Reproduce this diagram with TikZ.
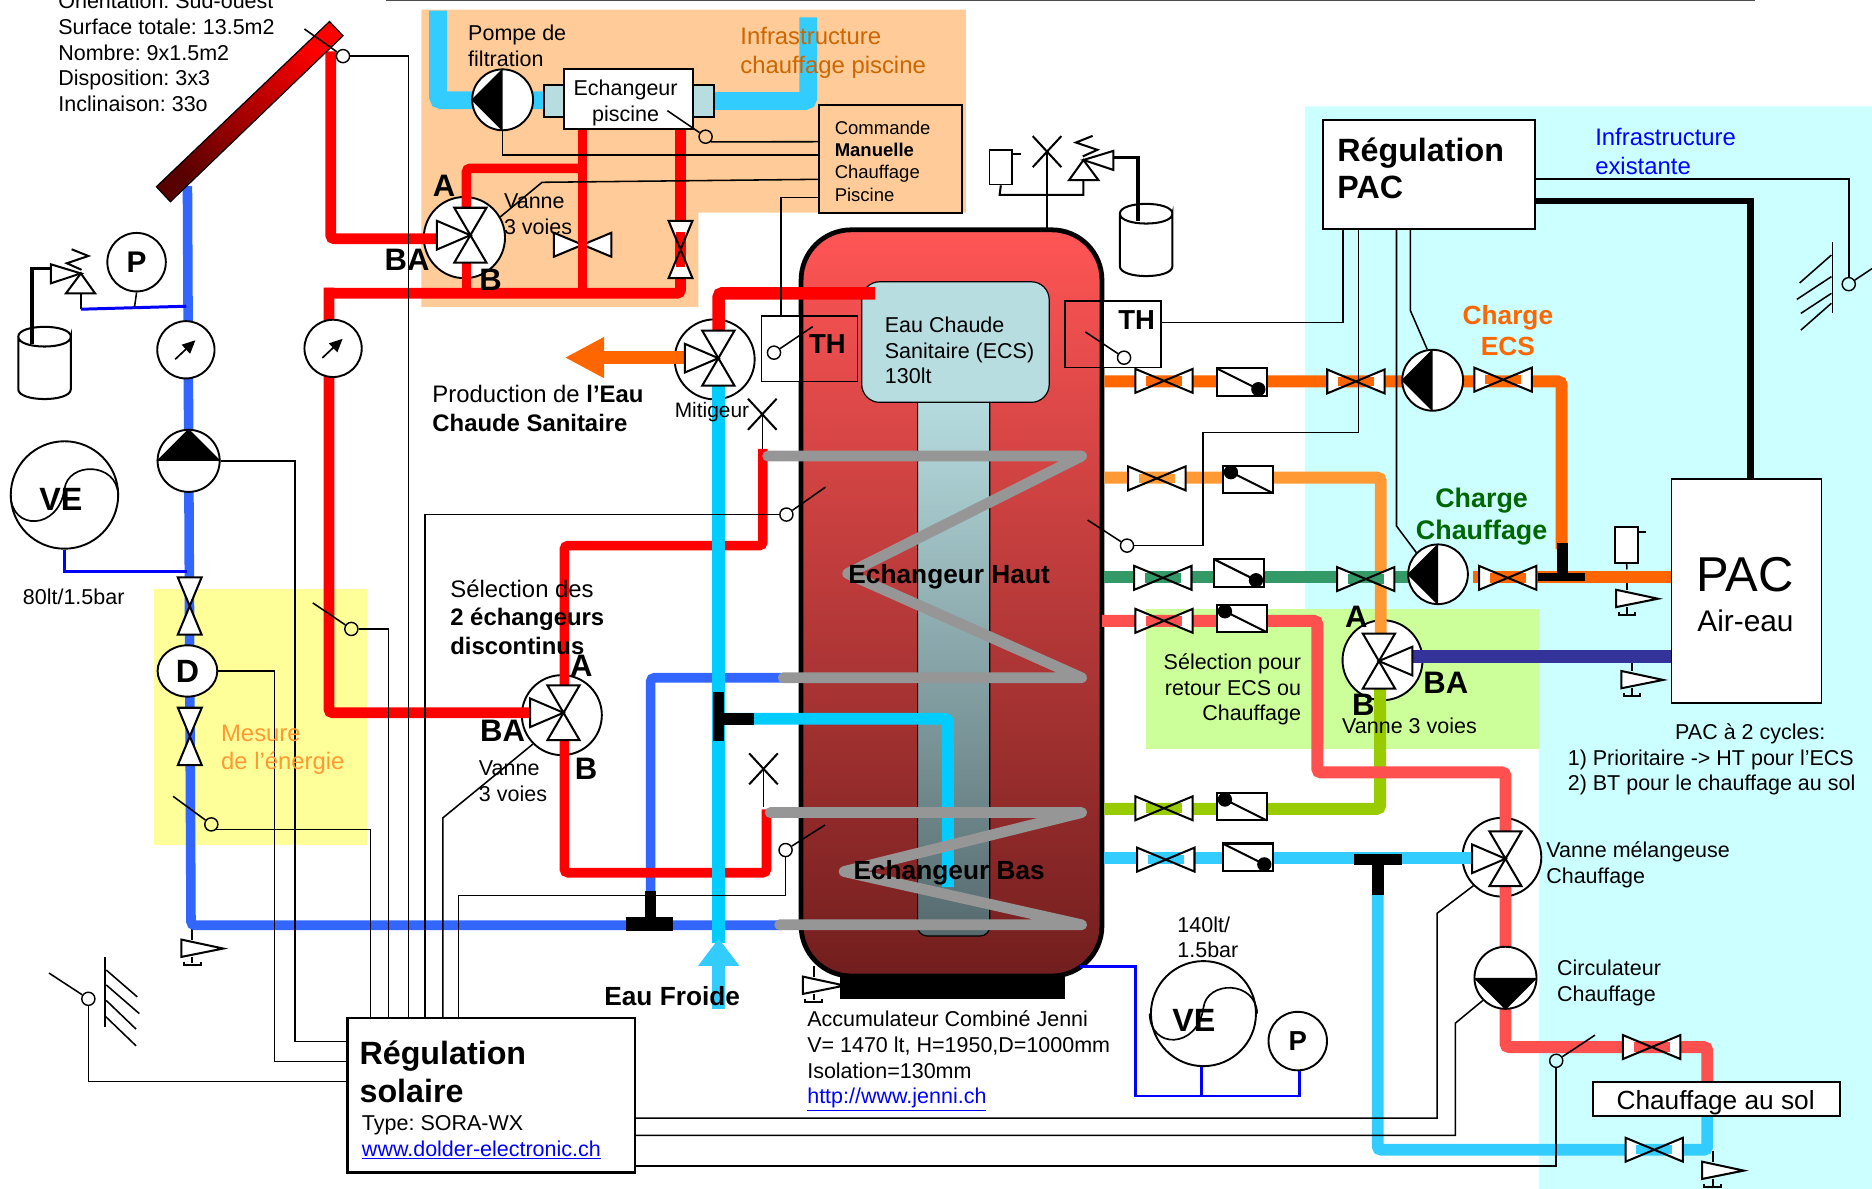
\documentclass[tikz,border=0pt]{standalone}
\usepackage{fontspec}
\setmainfont{Liberation Sans}
\usetikzlibrary{shapes.geometric, arrows.meta, positioning, calc}

\definecolor{cRouge}{HTML}{FF0000}
\definecolor{cBleu}{HTML}{3366FF}
\definecolor{cCiel}{HTML}{33CCFF}
\definecolor{cEau}{HTML}{00CCFF}
\definecolor{cOrange}{HTML}{FF6600}
\definecolor{cClair}{HTML}{FF9933}
\definecolor{cVert}{HTML}{339966}
\definecolor{cSaumon}{HTML}{FF5050}
\definecolor{cCitron}{HTML}{99CC00}
\definecolor{cMarine}{HTML}{333399}
\definecolor{cGris}{HTML}{969696}
\definecolor{cGlace}{HTML}{B7DDE0}
\definecolor{cGlaceM}{HTML}{90ABAF}
\definecolor{cGlaceB}{HTML}{566A6E}
\definecolor{cPiscine}{HTML}{FFCC99}
\definecolor{cTurq}{HTML}{CCFFFF}
\definecolor{cTendre}{HTML}{CCFF99}
\definecolor{cJaune}{HTML}{FFFF99}
\definecolor{cLien}{HTML}{0000FF}
\definecolor{cCuveH}{HTML}{FF5555}
\definecolor{cCuveB}{HTML}{721E1E}

\tikzset{
    tuyau/.style={line width=#1, rounded corners=3pt},
    tuyau/.default=10pt,
    fil/.style={line width=1.3pt, black},
    trait/.style={line width=1.7pt, black, line join=miter},
    boite/.style={draw, line width=1.5pt, fill=white, inner sep=0pt},
    rond/.style={circle, draw, line width=1.6pt, fill=white, inner sep=0pt, minimum size=#1},
    sonde/.style={circle, draw, line width=1.2pt, inner sep=0pt, minimum size=11pt},
    txt/.style={font=\fontsize{18}{21.5}\selectfont, inner sep=0pt, anchor=west, align=left},
    grand/.style={txt, font=\fontsize{20}{24}\selectfont},
    titre/.style={txt, font=\fontsize{27}{31.5}\selectfont\bfseries},
    lettre/.style={inner sep=0pt, font=\fontsize{26}{26}\selectfont\bfseries},
    pics/vanne/.style={code={
        \fill[white] (-24,-10) -- (24,10) -- (24,-10) -- (-24,10) -- cycle;
        \begin{scope}
            \clip (-24,-10) -- (24,10) -- (24,-10) -- (-24,10) -- cycle;
            \fill[#1] (-15,-4) rectangle (15,4);
        \end{scope}
        \draw[trait] (-24,-10) -- (24,10) -- (24,-10) -- (-24,10) -- cycle;
    }},
    pics/clapet/.style={code={
        \draw[trait, fill=white] (-21,-11.5) rectangle (21,11.5);
        \draw[trait] (-21,-11.5) -- (14,6);
        \fill (14,6) circle (6pt);
    }},
    pics/troisvoies/.style={code={
        \draw[trait, fill=white] (0,0) -- (-13.5,-23) -- (13.5,-23) -- cycle;
        \draw[trait, fill=white] (0,0) -- (-13.5,23) -- (13.5,23) -- cycle;
        \draw[trait, fill=white] (0,0) -- (-28,-12) -- (-28,12) -- cycle;
    }},
    pics/purge/.style={code={
        \draw[trait] (0,0) -- (0,9);
        \draw[trait, fill=white] (-9,9) -- (26,16.5) -- (-9,23.5) -- cycle;
        \draw[trait] (0,23.5) -- (0,29) (-7,27.5) -- (-7,30) -- (7,30) -- (7,27.5);
    }},
    pics/soupape/.style={code={
        \draw[trait, fill=white] (0,0) -- (-25,-7.6) -- (-25,8.3) -- cycle;
        \draw[trait, fill=white] (0,0) -- (-12.5,16.8) -- (12,16.8) -- cycle;
        \draw[trait] (-7.7,-20.2) -- (6.3,-14.6) -- (-11.7,-8.5) -- (0.6,-3);
    }},
    pics/event/.style={code={
        \draw[trait] (-12,-13) -- (12,13) (12,-13) -- (-12,13);
    }},
    pics/bidon/.style={code={
        \draw[trait, fill=white] (-22,0) -- (-22,44) .. controls (-22,55) and (22,55) .. (22,44) -- (22,0)
            .. controls (22,11) and (-22,11) .. (-22,0) .. controls (-22,-11) and (22,-11) .. (22,0);
    }},
    pics/spirale/.style={code={
        \draw[trait, line width=1.4pt] (-45,0) .. controls (-45,30) and (-5,30) .. (0,-5) .. controls (3,-28) and (44,-28) .. (45,0);
    }}
}

\begin{document}
\frenchspacing
\begin{tikzpicture}[x=1pt, y=-1pt]
    \useasboundingbox (0,0) rectangle (1568,995.9);

    % Zones
    \fill[cPiscine] (353,8) -- (809,8) -- (809,178) -- (585,178) -- (585,257) -- (353,257) -- cycle;
    \fill[cTurq] (1093,89) -- (1568,89) -- (1568,995.9) -- (1289,995.9) -- (1289,510) -- (1093,510) -- cycle;
    \fill[cTendre] (960,510) rectangle (1289,627);
    \fill[cJaune] (129,493.5) rectangle (307,708);
    \draw[line width=1pt, black!70] (323,0.4) -- (1470,0.4);

    % Accumulateur
    \fill (703.5,815) rectangle (892,836.6);
    \node[draw, line width=4pt, rounded corners=42pt, minimum width=252pt, minimum height=625pt, inner sep=0pt,
        top color=cCuveH, bottom color=cCuveB] (cuve) at (797,505) {};
    \shade[draw=black, line width=1pt, rounded corners=8pt, top color=cGlace, middle color=cGlaceM, bottom color=cGlaceB]
        (768.6,330) -- (768.6,784) -- (829,784) -- (829,330);
    \node[draw, line width=1pt, rounded corners=15pt, fill=cGlace, minimum width=157pt, minimum height=101pt, inner sep=0pt] (ecs) at (800.3,286.5) {};

    % Composants sous les tuyaux
    \node[rond=68pt] (v3P) at (389,199) {};
    \node[rond=67pt] (v3M) at (598.6,301) {};
    \node[rond=67pt] (v3S) at (470.6,599) {};
    \node[rond=67pt] (v3C) at (1158,553) {};
    \node[rond=66pt] (vMel) at (1258,718) {};
    \pic at (488,205) {vanne=white};
    \pic at (1362.7,485) {purge};
    \pic at (1367,553) {purge};
    \pic at (1434.6,964) {purge};
    \pic at (161,778) {purge};
    \pic at (681.5,809) {purge};

    % Tuyaux solaire
    \draw[cBleu, tuyau=8pt] (157,156) -- (160,775) -- (655,775);
    \draw[cBleu, tuyau=8pt] (545,750) -- (545,567.7) -- (656,567.7);
    \draw[cRouge, tuyau=9pt] (277,43) -- (277,200) -- (367,200);
    \draw[cRouge, tuyau=9pt] (275.5,241) -- (275.5,597) -- (445,597);
    \draw[cRouge, tuyau=9pt] (272,245.7) -- (570,245.7) -- (570,109);
    \draw[cRouge, tuyau=8pt] (488,109) -- (488,245.7);
    \draw[cRouge, tuyau=8pt] (488,141) -- (390.7,141) -- (390.7,175);
    \draw[cRouge, tuyau=8pt] (390.7,219) -- (390.7,245.7);
    \draw[cRouge, tuyau=8pt] (472.7,574) -- (472.7,457) -- (639,457) -- (639,376);
    \draw[cRouge, tuyau=8pt] (472.7,619) -- (472.7,731) -- (642,731) -- (642,678);
    \draw[cRouge, tuyau=10.5pt] (602,278) -- (602,245.7) -- (733,245.7);

    % Tuyaux piscine
    \draw[cCiel, tuyau=15pt] (367,9) -- (367,84) -- (456,84);
    \draw[cCiel, tuyau=15pt] (598,84.6) -- (677,84.6) -- (677,14.5);

    % Eau sanitaire
    \draw[cOrange, line width=11pt, -{Triangle[length=33pt, width=32pt]}] (575,299.5) -- (473,299.5);
    \draw[cEau, line width=11pt] (602,323) -- (602,790);
    \draw[cEau, line width=10pt, rounded corners=3pt] (602,602) -- (794,602) -- (794,743);
    \draw[cCiel, line width=11pt, -{Triangle[length=23pt, width=33pt]}] (602,845) -- (602,786);
    \draw[line width=9.5pt] (602,580) -- (602,621);
    \draw[line width=10pt] (602,602) -- (631.5,602);
    \draw[line width=9pt] (545,746) -- (545,774);
    \draw[line width=12pt] (524,774) -- (564,774);

    % Tuyaux PAC
    \draw[cOrange, tuyau] (925,319.5) -- (1308,319.5) -- (1308,460);
    \draw[cClair, tuyau] (925,400) -- (1156.5,400) -- (1156.5,531);
    \draw[cVert, tuyau] (925,483.5) -- (1185,483.5);
    \draw[cOrange, tuyau] (1234,483) -- (1400,483);
    \draw[cCitron, tuyau] (925,677.5) -- (1156,677.5) -- (1156,577);
    \draw[cSaumon, tuyau] (923,520) -- (1103.4,520) -- (1103.4,647) -- (1261,647) -- (1261,700);
    \draw[cSaumon, tuyau] (1261,740) -- (1261,877) -- (1430,877) -- (1430,908);
    \draw[cCiel, tuyau] (925,718.6) -- (1234,718.6);
    \draw[cCiel, tuyau] (1154,745) -- (1154,963) -- (1430,963) -- (1430,934);
    \draw[cMarine, tuyau=11pt] (1182,550) -- (1400,550);
    \draw[line width=9pt] (1309,455) -- (1309,484);
    \draw[line width=7pt] (1288,483.5) -- (1328,483.5);
    \draw[line width=9pt] (1134,719.8) -- (1174.5,719.8);
    \draw[line width=10pt] (1154,719.8) -- (1154,750);

    % Echangeurs
    \draw[cGris, line width=9pt, line join=round, line cap=round] (643,382) -- (906,382) -- (710,480.4) -- (906,567.7) -- (656,567.7);
    \draw[cGris, line width=9pt, line join=round, line cap=round] (645,680.6) -- (906,680.6) -- (707,730) -- (906,774.6) -- (653,774.6);

    % Capteur solaire
    \shade[draw=black, line width=1pt, top color=red, middle color=red!85!black, bottom color=red!35!black, shading angle=-43]
        (276,18) -- (287.3,30) -- (142.7,169) -- (131,156.4) -- cycle;

    % Vannes
    \foreach \x/\y/\c in {975/319/cOrange, 1135.7/319.5/cOrange, 1259/318/cOrange, 969/400.7/cClair, 974/484/cVert, 1144/485/cVert,
        1262.9/484/cOrange, 975/520/cSaumon, 975/677/cCitron, 976.5/720/cCiel, 1383.4/877/cSaumon, 1385.6/963/cCiel}
        {\pic at (\x,\y) {vanne=\c};}
    \foreach \x/\y/\c in {570/209/cRouge, 158.9/507.6/white, 159/616.8/white}
        {\pic[rotate=90] at (\x,\y) {vanne=\c};}
    \foreach \x/\y in {1040/320, 1038/480, 1045/718}
        {\pic at (\x,\y) {clapet};}
    \foreach \x/\y in {1045/401.5, 1040/518, 1040/675.7}
        {\pic[rotate=180] at (\x,\y) {clapet};}
    \pic at (394,197) {troisvoies};
    \pic at (601.7,300) {troisvoies};
    \pic at (472,597) {troisvoies};
    \pic at (1261,719.3) {troisvoies};
    \pic[rotate=180] at (1155,553.7) {troisvoies};

    % Pompes
    \node[rond=51pt] (pFil) at (421,83.6) {};
    \node[rond=51pt] (pECS) at (1200,318.5) {};
    \node[rond=50pt] (pCha) at (1204.5,481) {};
    \node[rond=52pt] (pSol) at (158,386) {};
    \node[rond=52pt] (pCir) at (1261,819) {};
    \foreach \p in {pFil, pECS, pCha}
        {\fill (\p.north) -- (\p.west) -- (\p.south) -- cycle;}
    \fill (pSol.west) -- (pSol.north) -- (pSol.east) -- cycle;
    \fill (pCir.west) -- (pCir.south) -- (pCir.east) -- cycle;

    % Debitmetres
    \node[rond=48pt] (fm1) at (155.7,293) {};
    \node[rond=48pt] (fm2) at (279,291.8) {};
    \foreach \f in {fm1, fm2}
        {\draw[line width=1.4pt, -{Triangle[length=11pt, width=10pt]}] ($(\f)+(-9,8)$) -- ($(\f)+(8,-8)$);}
    \node[ellipse, draw, line width=1.6pt, fill=white, minimum width=50pt, minimum height=43pt, inner sep=0pt,
        font=\fontsize{27}{27}\selectfont\bfseries] (dEner) at (157,562) {D};

    % Groupe de securite gauche
    \pic at (37.3,282) {bidon};
    \draw[line width=3pt] (42.7,224.8) -- (26.7,224.8) -- (26.7,288);
    \pic at (67.7,229) {soupape};
    \draw[trait] (67.7,245.7) -- (67.7,259);
    \node[rond=49pt, font=\fontsize{25}{25}\selectfont\bfseries] (jaugeG) at (114.4,219.6) {P};
    \draw[cLien, line width=2.5pt] (67.7,259) -- (156,256.5);
    \draw[fil] (jaugeG.south) -- (112.7,257);
    \node[rond=90pt] (veG) at (54,414.6) {};
    \pic at (54,414.6) {spirale};
    \node[lettre, font=\fontsize{27}{27}\selectfont\bfseries] (veGt) at (51,418) {VE};
    \draw[cLien, line width=2.5pt] (veG.south) -- (54,478.3) -- (157,478.3);

    % Groupe de securite ECS
    \pic at (960,179) {bidon};
    \draw[line width=3pt] (933,131.9) -- (953,131.9) -- (953,185);
    \pic[xscale=-1] at (907.5,134) {soupape};
    \node[boite, minimum width=19pt, minimum height=29pt] (clapH) at (838.3,140) {};
    \draw[trait] (clapH.north east) ++(0,4.4) -- ++(6.3,0);
    \draw[trait] (clapH.south) -- (837.3,163.3) -- (907.5,163.3) -- (907.5,151.4);
    \pic at (877,127) {event};
    \draw[fil] (877,127) -- (877,194);
    \pic at (638.5,347) {event};
    \draw[fil] (638.5,347) -- (638.5,376);
    \pic at (639.5,644) {event};
    \draw[fil] (639.5,644) -- (639.5,676);

    % Groupe PAC
    \node[boite, minimum width=19pt, minimum height=29.6pt] (clapP) at (1362.5,456.5) {};
    \draw[trait] (clapP.north east) ++(0,4.4) -- ++(6.3,0);
    \draw[fil] (clapP.south) -- (1362.7,477);
    \node[boite, minimum width=125.6pt, minimum height=188pt] (pac) at (1462.8,495) {};
    \node[inner sep=0pt, font=\fontsize{41}{41}\selectfont] (pacT) at (1462,481) {PAC};
    \node[inner sep=0pt, font=\fontsize{25}{25}\selectfont] (pacB) at (1462,520) {Air-eau};

    % Vases d'expansion ECS
    \draw[cLien, line width=2.5pt] (905,809.4) -- (951,809.4) -- (951,918) -- (1088.6,918) -- (1088.6,894.6);
    \draw[cLien, line width=2.5pt] (1006,892.6) -- (1006,918);
    \node[rond=88pt] (veD) at (1008,849) {};
    \pic at (1008,849) {spirale};
    \node[lettre, font=\fontsize{27}{27}\selectfont\bfseries] (veDt) at (1000,855) {VE};
    \node[rond=49pt, font=\fontsize{23}{23}\selectfont\bfseries] (jaugeD) at (1087,872) {P};

    % Boites
    \node[boite, minimum width=241pt, minimum height=129.4pt, line width=2.2pt] (regSol) at (411.5,917.3) {};
    \node[boite, minimum width=178pt, minimum height=91.5pt] (regPac) at (1197,146.2) {};
    \node[boite, fill=cPiscine, minimum width=119.7pt, minimum height=90.7pt] (cmd) at (745.8,133.3) {};
    \node[boite, fill=cGlace, minimum width=16.7pt, minimum height=27pt] (capG) at (464.3,84.5) {};
    \node[boite, fill=cGlace, minimum width=17.6pt, minimum height=27pt] (capD) at (589.5,84.5) {};
    \node[boite, minimum width=108pt, minimum height=50pt] (echP) at (526.7,83) {};
    \node[boite, minimum width=207pt, minimum height=28.6pt] (sol) at (1437.5,920.3) {};
    \node[draw, line width=1.3pt, minimum width=80.6pt, minimum height=55pt, inner sep=0pt] (thG) at (678,292.2) {};
    \node[draw, line width=1.3pt, minimum width=80.7pt, minimum height=56pt, inner sep=0pt] (thD) at (932.3,280) {};
    \fill[white] (638.5,265.5) rectangle (669,319);
    \draw[line width=1.3pt] (669,265) -- (638,265) -- (638,319.5) -- (669,319.5);
    \fill[white] (925,252.6) rectangle (972,307.4);
    \draw[line width=1.3pt] (925,252) -- (972.7,252) -- (972.7,308) -- (925,308);

    % Sondes
    \node[sonde] (sPan) at (287.3,47) {};
    \node[sonde] (sRed) at (294.3,526.8) {};
    \node[sonde] (sMes) at (177,690.5) {};
    \node[sonde] (sExt) at (74,836.6) {};
    \node[sonde] (sHaut) at (658.7,431) {};
    \node[sonde] (sBas) at (658,712) {};
    \node[sonde] (sEch) at (591,114.5) {};
    \node[sonde] (sThG) at (648.3,295.4) {};
    \node[sonde] (sThD) at (941.5,299.6) {};
    \node[sonde] (sECS) at (944,457) {};
    \node[sonde] (sSol) at (1303.5,888.5) {};
    \node[sonde] (sPac) at (1548.5,238) {};
    \foreach \s/\x/\y in {sPan/255/24.3, sRed/262/505, sMes/145/667, sExt/41/815, sHaut/691.4/408, sBas/691/691,
        sEch/559/92.7, sThG/680.7/273.6, sThD/909/278, sECS/911/435.6, sSol/1336/867, sPac/1568/225}
        {\draw[fil] (\s) -- (\x,\y);}

    % Parois
    \draw[fil] (88,801.6) -- (88,860.6);
    \draw[fil] (89,812.5) -- (115,835) (89,825) -- (116.7,849) (89,838) -- (114,862) (88,851) -- (114,876);
    \draw[fil] (1535,203) -- (1535,262.5);
    \draw[fil] (1534,213.6) -- (1507.4,237) (1534,231.7) -- (1505,250.8) (1534,245.7) -- (1508.4,262.5) (1534,254) -- (1508.4,276.5);

    % Points de raccordement des fils
    \foreach \n/\x in {rs1/310.4, rs2/325.4, rs3/342, rs4/356, rs5/371, rs6/384}
        {\coordinate (\n) at (\x,852.6);}
    \foreach \n/\y in {rs7/872.4, rs8/889, rs9/906}
        {\coordinate (\n) at (291,\y);}
    \foreach \n/\y in {rs10/936.5, rs11/951, rs12/976.5}
        {\coordinate (\n) at (532,\y);}
    \foreach \n/\y in {cm1/118.7, cm2/129.8, cm3/150.2, cm4/165.3}
        {\coordinate (\n) at (686,\y);}
    \foreach \n/\x in {rp1/1125, rp2/1138, rp3/1169.7, rp4/1181.4}
        {\coordinate (\n) at (\x,192);}
    \coordinate (rp5) at (1286,150);
    \coordinate (rp6) at (1286,168.4);
    \coordinate (pacH) at (1466.4,401);

    % Fils regulation solaire
    \draw[fil] (sMes.south east) -| (rs1);
    \draw[fil] (sRed.east) -| (rs2);
    \draw[fil] (sPan.east) -| (rs3);
    \draw[fil] (rs4) |- (sHaut.west);
    \draw[fil] (rs5) -- (371,685) -- (v3S.south west);
    \draw[fil] (rs6) -- (384,750) -| (sBas.south);
    \draw[fil] (pSol.east) -- (247,386) |- (rs7);
    \draw[fil] (dEner.east) -- (230,562) |- (rs8);
    \draw[fil] (sExt.south) |- (rs9);
    \draw[fil] (rs10) -| (1203.7,765) -- (vMel.south west);
    \draw[fil] (rs11) -| (1219,857) -- (pCir.south west);
    \draw[fil] (rs12) -| (sSol.south);

    % Fils commande piscine
    \draw[fil] (sEch.south east) -- (cm1);
    \draw[fil] (pFil.south) |- (cm2);
    \draw[fil] (v3P.30) -- (454,152.7) -- (cm3);
    \draw[fil] ([xshift=-24pt]thG.north) |- (cm4);

    % Fils regulation PAC
    \draw[fil] (rp1) |- ([yshift=9.7pt]thD.east);
    \draw[fil] (rp2) |- (1007.6,362.4) |- (sECS.east);
    \draw[fil] (rp3) -- (1169.7,440.6) -- (pCha.north west);
    \draw[fil] (rp4) -- (1181.4,260.3) -- (pECS.100);
    \draw[fil] (rp5) -| (sPac.north);
    \draw[line width=5.6pt] (rp6) -| (pacH);

    % Textes
    \node[txt] (tCap) at (48.7,44) {Orientation: Sud-ouest\\Surface totale: 13.5m2\\Nombre: 9x1.5m2\\Disposition: 3x3\\Inclinaison: 33o};
    \node[txt] (tFil) at (392,38.5) {Pompe de\\filtration};
    \node[grand, text=orange!80!black] (tInfP) at (620,44) {Infrastructure\\chauffage piscine};
    \node[txt, align=center, anchor=center] (tEch) at (524,86) {Echangeur\\piscine};
    \node[txt, font=\fontsize{15.5}{18.7}\selectfont] (tCmd) at (699,135) {Commande\\\textbf{Manuelle}\\Chauffage\\Piscine};
    \node[lettre] (lA1) at (372,156) {A};
    \node[lettre] (lBA1) at (341,218) {BA};
    \node[lettre] (lB1) at (411,234) {B};
    \node[txt] (tV1) at (422,179.5) {Vanne\\3 voies};
    \node[grand] (tProd) at (362,342) {Production de \textbf{l’Eau}\\\textbf{Chaude Sanitaire}};
    \node[txt, font=\fontsize{17.5}{20}\selectfont] (tMit) at (565,345) {Mitigeur};
    \node[txt] (tEcs) at (741,293.5) {Eau Chaude\\Sanitaire (ECS)\\130lt};
    \node[lettre, font=\fontsize{23}{23}\selectfont\bfseries] (tTh1) at (693,288) {TH};
    \node[lettre, font=\fontsize{23}{23}\selectfont\bfseries] (tTh2) at (952,268) {TH};
    \node[grand] (tSel) at (377,517) {Sélection des\\\textbf{2 échangeurs}\\\textbf{discontinus}};
    \node[lettre] (lA2) at (487,558) {A};
    \node[lettre] (lBA2) at (421,612) {BA};
    \node[lettre] (lB2) at (491,644) {B};
    \node[txt] (tV2) at (401,654.5) {Vanne\\3 voies};
    \node[grand, text=cClair] (tMes) at (185,628) {Mesure\\de l’énergie};
    \node[txt] (tVol) at (19,500) {80lt/1.5bar};
    \node[txt, font=\fontsize{22}{25}\selectfont\bfseries] (tFroid) at (506,834) {Eau Froide};
    \node[lettre, font=\fontsize{22}{22}\selectfont\bfseries] (tHaut) at (795,483) {Echangeur Haut};
    \node[lettre, font=\fontsize{22}{22}\selectfont\bfseries] (tBas) at (795,731) {Echangeur Bas};
    \node[txt] (tAcc) at (676,888.5) {Accumulateur Combiné Jenni\\V= 1470 lt, H=1950,D=1000mm\\Isolation=130mm\\\textcolor{cLien}{\underline{http://www.jenni.ch}}};
    \node[txt] (tVolD) at (986,785) {140lt/\\1.5bar};
    \node[titre] (tRegS) at (301,898) {Régulation\\solaire};
    \node[txt] (tType) at (303,952.5) {Type: SORA-WX\\\textcolor{cLien}{\underline{www.dolder-electronic.ch}}};
    \node[titre] (tRegP) at (1120,141) {Régulation\\PAC};
    \node[grand, text=cLien] (tInfE) at (1336,127) {Infrastructure\\existante};
    \node[inner sep=0pt, align=center, text=cOrange, font=\fontsize{22}{26}\selectfont\bfseries] (tChE) at (1263,277) {Charge\\ECS};
    \node[inner sep=0pt, align=center, text=green!40!black, font=\fontsize{22.5}{26.5}\selectfont\bfseries] (tChC) at (1241,432.5) {Charge\\Chauffage};
    \node[txt, align=right, anchor=east] (tRet) at (1090,577.5) {Sélection pour\\retour ECS ou\\Chauffage};
    \node[lettre] (lA3) at (1136,517) {A};
    \node[lettre] (lB3) at (1142,590) {B};
    \node[lettre] (lBA3) at (1211,572) {BA};
    \node[txt] (tV3) at (1124,608) {Vanne 3 voies};
    \node[txt, anchor=center] (tCyc1) at (1466,615) {PAC à 2 cycles:};
    \node[txt] (tCyc2) at (1313,647) {1) Prioritaire -> HT pour l’ECS\\2) BT pour le chauffage au sol};
    \node[txt] (tMel) at (1295,724.5) {Vanne mélangeuse\\Chauffage};
    \node[txt] (tCir) at (1304,823.5) {Circulateur\\Chauffage};
    \node[inner sep=0pt, font=\fontsize{22}{22}\selectfont] (tSol) at (1437,923.5) {Chauffage au sol};
\end{tikzpicture}
\end{document}
